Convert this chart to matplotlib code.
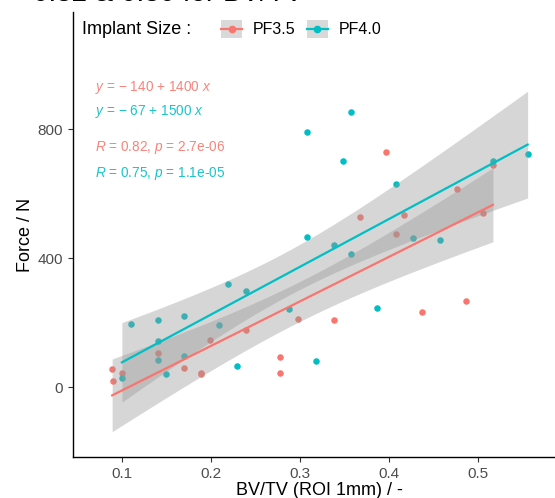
import numpy as np
import matplotlib
matplotlib.use("Agg")
from matplotlib import pyplot as plt
from matplotlib.lines import Line2D
from matplotlib.patches import Rectangle
from matplotlib.legend_handler import HandlerBase

plt.rcParams['font.family'] = ['Liberation Sans', 'DejaVu Sans']
plt.rcParams['mathtext.fontset'] = 'custom'
plt.rcParams['mathtext.rm'] = 'Liberation Sans'
plt.rcParams['mathtext.it'] = 'Liberation Sans:italic'

# PF3.5 (red)
bv_35 = [0.089, 0.090, 0.100, 0.140, 0.170, 0.189, 0.189, 0.199, 0.239, 0.278, 0.278,
         0.298, 0.338, 0.368, 0.397, 0.408, 0.417, 0.437, 0.477, 0.487, 0.506, 0.517]
force_35 = [55, 20, 45, 106, 60, 45, 39, 147, 177, 93, 44,
            211, 209, 527, 728, 475, 532, 233, 613, 268, 540, 688]

# PF4.0 (teal)
bv_40 = [0.100, 0.110, 0.140, 0.140, 0.140, 0.150, 0.170, 0.170, 0.209, 0.219, 0.229,
         0.239, 0.288, 0.308, 0.308, 0.318, 0.348, 0.358, 0.338, 0.358, 0.387, 0.408,
         0.427, 0.457, 0.517, 0.556]
force_40 = [29, 194, 207, 142, 85, 39, 219, 95, 193, 319, 64,
            297, 241, 790, 464, 81, 701, 854, 441, 413, 246, 629,
            461, 456, 702, 724]

groups = ["PF3.5", "PF4.0"]
colors = ["#F8766D", "#00BFC4"]
eq_labels = [r"$y$ = $-$ 140 + 1400 $x$", r"$y$ = $-$ 67 + 1500 $x$"]
r_labels = [r"$R$ = 0.82, $p$ = 2.7e-06", r"$R$ = 0.75, $p$ = 1.1e-05"]
t_crit = [2.086, 2.064]  # t(0.975, n-2)


def lm_band(x, y, t):
    x = np.asarray(x, float)
    y = np.asarray(y, float)
    n = len(x)
    b, a = np.polyfit(x, y, 1)
    resid = y - (a + b * x)
    s = np.sqrt(np.sum(resid ** 2) / (n - 2))
    xs = np.linspace(x.min(), x.max(), 80)
    se = s * np.sqrt(1 / n + (xs - x.mean()) ** 2 / np.sum((x - x.mean()) ** 2))
    fit = a + b * xs
    return xs, fit, fit - t * se, fit + t * se


class KeyHandler(HandlerBase):
    def create_artists(self, legend, orig_handle, xdescent, ydescent,
                       width, height, fontsize, trans):
        c = orig_handle.get_color()
        x0, y0 = -xdescent, -ydescent
        rect = Rectangle((x0, y0), width, height, facecolor="#d9d9d9",
                         edgecolor="none", transform=trans)
        line = Line2D([x0, x0 + width], [y0 + height / 2] * 2, color=c,
                      lw=1.6, transform=trans)
        pt = Line2D([x0 + width / 2], [y0 + height / 2], marker="o",
                    markersize=4.5, color=c, transform=trans)
        return [rect, line, pt]


fig = plt.figure(figsize=(5.55, 4.98), dpi=100)
ax = fig.add_axes([73 / 555, 1 - 457 / 498, (565 - 73) / 555, (457 - 12) / 498])

data = [(bv_35, force_35), (bv_40, force_40)]
for (x, y), c in zip(data, colors):
    ax.scatter(x, y, s=22, color=c, zorder=1, linewidths=0)
for (x, y), c, t in zip(data, colors, t_crit):
    xs, fit, lo, hi = lm_band(x, y, t)
    ax.fill_between(xs, lo, hi, color="#999999", alpha=0.4, linewidth=0, zorder=2)
    ax.plot(xs, fit, color=c, lw=1.6, zorder=3)

ax.set_xlim(0.045, 0.598)
ax.set_ylim(-217, 1163)
ax.set_xticks([0.1, 0.2, 0.3, 0.4, 0.5])
ax.set_yticks([0, 400, 800])
ax.tick_params(labelsize=11, labelcolor="#4d4d4d", color="#333333", length=3.5, width=0.8)
for side in ["top", "right"]:
    ax.spines[side].set_visible(False)
for side in ["left", "bottom"]:
    ax.spines[side].set_linewidth(1.0)
ax.set_xlabel("BV/TV (ROI 1mm) / -", fontsize=13, labelpad=1)
ax.set_ylabel("Force / N", fontsize=13, labelpad=3)

# regression annotations
for lbl, c, ypx in zip(eq_labels + r_labels, colors + colors, [88, 111, 148, 174]):
    fig.text(95 / 555, 1 - ypx / 498, lbl, color=c, fontsize=9.8, va="center", alpha=0.9)

# legend
fig.text(82 / 555, 1 - 29 / 498, "Implant Size :", fontsize=13, va="center")
handles = [Line2D([], [], color=c) for c in colors]
fig.legend(handles, groups, loc="center left", bbox_to_anchor=(210 / 555, 1 - 29 / 498),
           ncol=2, frameon=False, fontsize=11.5, handlelength=1.3, handleheight=1.3,
           columnspacing=0.7, handletextpad=0.7, borderpad=0.2,
           handler_map={Line2D: KeyHandler()})

# title, mostly cut off at the top of the image
fig.text(33 / 555, 1 - 1 / 498, "0.82 & 0.80 for BV/TV", fontsize=20, va="baseline")

fig.savefig("out.png", dpi=100)
